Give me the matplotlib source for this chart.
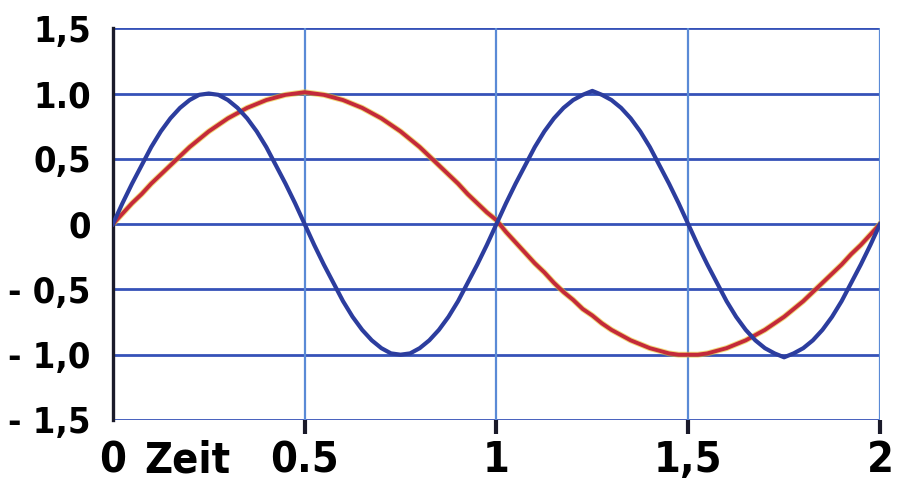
import numpy as np
import matplotlib.pyplot as plt

# values, t = 0 .. 2 in steps of 0.025
t = np.arange(81) * 0.025

rot = [0.00, 0.08, 0.16, 0.23, 0.31, 0.38, 0.45, 0.52, 0.59, 0.65,
       0.71, 0.76, 0.81, 0.85, 0.89, 0.92, 0.95, 0.97, 0.99, 1.00,
       1.01, 1.00, 0.99, 0.97, 0.95, 0.92, 0.89, 0.85, 0.81, 0.76,
       0.71, 0.65, 0.59, 0.52, 0.45, 0.38, 0.31, 0.23, 0.16, 0.09,
       0.03,
       -0.06, -0.14, -0.22, -0.30, -0.37, -0.45, -0.52, -0.58, -0.65, -0.70,
       -0.76, -0.81, -0.85, -0.89, -0.92, -0.95, -0.97, -0.99, -1.00, -1.00,
       -1.00, -0.99, -0.97, -0.95, -0.92, -0.89, -0.85, -0.81, -0.76, -0.71,
       -0.65, -0.59, -0.52, -0.45, -0.38, -0.31, -0.23, -0.16, -0.08, 0.00]

blau = [0.00, 0.16, 0.31, 0.45, 0.59, 0.71, 0.81, 0.89, 0.95, 0.99,
        1.00, 0.99, 0.95, 0.89, 0.81, 0.71, 0.59, 0.45, 0.31, 0.16,
        0.00, -0.16, -0.31, -0.45, -0.59, -0.71, -0.81, -0.89, -0.95, -0.99,
        -1.00, -0.99, -0.95, -0.89, -0.81, -0.71, -0.59, -0.45, -0.31, -0.16,
        0.00, 0.16, 0.31, 0.45, 0.59, 0.71, 0.81, 0.89, 0.95, 0.99,
        1.02, 0.99, 0.95, 0.89, 0.81, 0.71, 0.59, 0.45, 0.31, 0.16,
        0.00, -0.16, -0.31, -0.45, -0.59, -0.71, -0.81, -0.89, -0.95, -0.99,
        -1.02, -0.99, -0.95, -0.89, -0.81, -0.71, -0.59, -0.45, -0.31, -0.16,
        0.00]

x_ticks = [0, 0.5, 1, 1.5, 2]
x_labels = ['0', '0.5', '1', '1,5', '2']
y_ticks = [1.5, 1.0, 0.5, 0, -0.5, -1.0, -1.5]
y_labels = ['1,5', '1.0', '0,5', '0', '- 0,5', '- 1,0', '- 1,5']

font = dict(family=['DejaVu Sans'], fontweight='bold', fontstretch='condensed')
grid_h = '#3552b8'
grid_v = '#5a8ad6'

fig = plt.figure(figsize=(9.03, 5.04), dpi=100)
ax = fig.add_axes([0.125, 0.1667, 0.8495, 0.7773])

ax.set_xlim(0, 2)
ax.set_ylim(-1.5, 1.5)

for y in y_ticks:
    ax.axhline(y, color=grid_h, lw=2.0, zorder=1)
for x in x_ticks[1:]:
    ax.axvline(x, color=grid_v, lw=1.6, zorder=1)

# red curve with a faint yellow halo like the marker pen
ax.plot(t, rot, color='#e8c020', lw=4.2, alpha=0.6, zorder=2,
        solid_joinstyle='round')
ax.plot(t, rot, color='#c42a3a', lw=2.8, zorder=3, solid_joinstyle='round')
ax.plot(t, blau, color='#2c3d9e', lw=3.0, zorder=4, solid_joinstyle='round')

for s in ['top', 'right', 'bottom']:
    ax.spines[s].set_visible(False)
ax.spines['left'].set_color('#1a1a2a')
ax.spines['left'].set_linewidth(2.4)

ax.set_xticks(x_ticks)
ax.set_xticklabels(x_labels, fontsize=31, **font)
ax.set_yticks(y_ticks)
ax.set_yticklabels(y_labels, fontsize=26, **font)
ax.tick_params(axis='x', length=10, width=3, color='#1a1a2a', pad=4)
ax.tick_params(axis='y', length=0, pad=16)
ax.xaxis.get_major_ticks()[0].tick1line.set_visible(False)

ax.annotate('Zeit', xy=(0.193, 0), xycoords=('data', 'axes fraction'),
            xytext=(0, -14), textcoords='offset points', ha='center', va='top',
            fontsize=31, **font)

fig.savefig('out.png', dpi=100, facecolor='white')
